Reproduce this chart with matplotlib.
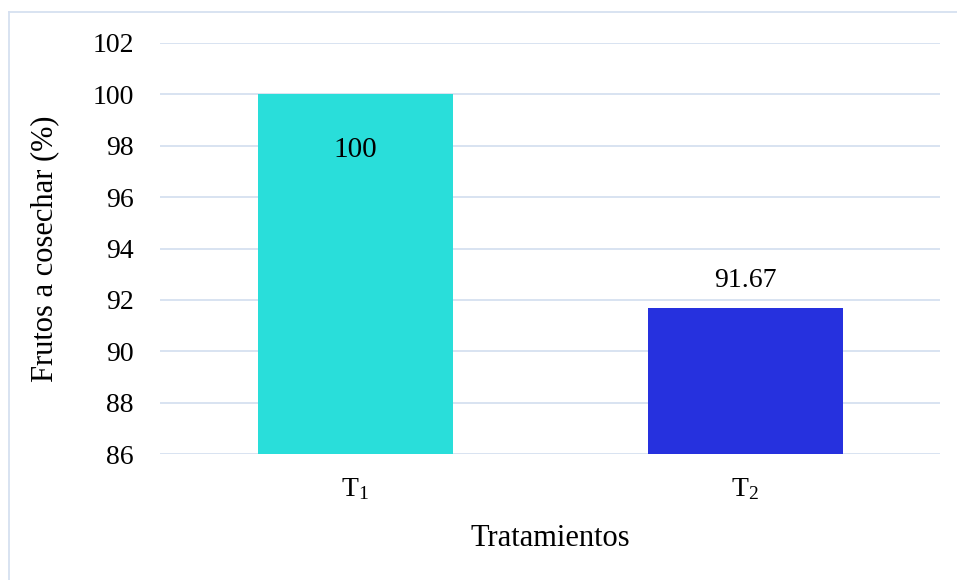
import matplotlib.pyplot as plt
from matplotlib.lines import Line2D

plt.rcParams['font.family'] = ['Liberation Serif', 'DejaVu Serif']
plt.rcParams['mathtext.fontset'] = 'custom'
plt.rcParams['mathtext.rm'] = 'Liberation Serif'
plt.rcParams['mathtext.it'] = 'Liberation Serif'

tratamientos = [r'T$_1$', r'T$_2$']
frutos = [100, 91.67]
etiquetas = ['100', '91.67']
colores = ['#29DEDA', '#2631DE']
y_ticks = [86, 88, 90, 92, 94, 96, 98, 100, 102]

fs = 20

fig = plt.figure(figsize=(9.57, 5.8), dpi=100)
ax = fig.add_axes([160 / 957, 1 - 454 / 580, 780 / 957, 411 / 580])

x = range(len(frutos))
bars = ax.bar(x, [v - 86 for v in frutos], bottom=86, width=0.5, color=colores, zorder=3)

ax.set_xlim(-0.5, 1.5)
ax.set_ylim(86, 102)
ax.set_yticks(y_ticks)
ax.set_yticklabels([str(t) for t in y_ticks])
ax.set_xticks(list(x))
ax.set_xticklabels(tratamientos)
ax.tick_params(axis='both', length=0, labelsize=fs, colors='black')
ax.tick_params(axis='y', pad=19)
ax.tick_params(axis='x', pad=16)
ax.grid(axis='y', color='#D6E0F0', linewidth=1.3, zorder=0)
for s in ax.spines.values():
    s.set_visible(False)

# etiquetas de valor: dentro de la primera barra, encima de la segunda
ax.annotate(etiquetas[0], (0, frutos[0]), xytext=(0, -40), textcoords='offset points',
            ha='center', va='center', fontsize=21)
ax.annotate(etiquetas[1], (1, frutos[1]), xytext=(0, 20), textcoords='offset points',
            ha='center', va='center', fontsize=fs)

ax.set_ylabel('Frutos a cosechar (%)', fontsize=22, labelpad=24)
ax.set_xlabel('Tratamientos', fontsize=22, labelpad=16)

# marco del área del gráfico
fig.add_artist(Line2D([9 / 957, 1], [1 - 12 / 580, 1 - 12 / 580], color='#D6E0F0', linewidth=1.3))
fig.add_artist(Line2D([9 / 957, 9 / 957], [0, 1 - 12 / 580], color='#D6E0F0', linewidth=1.3))

fig.savefig('out.png', dpi=100, facecolor='white')
